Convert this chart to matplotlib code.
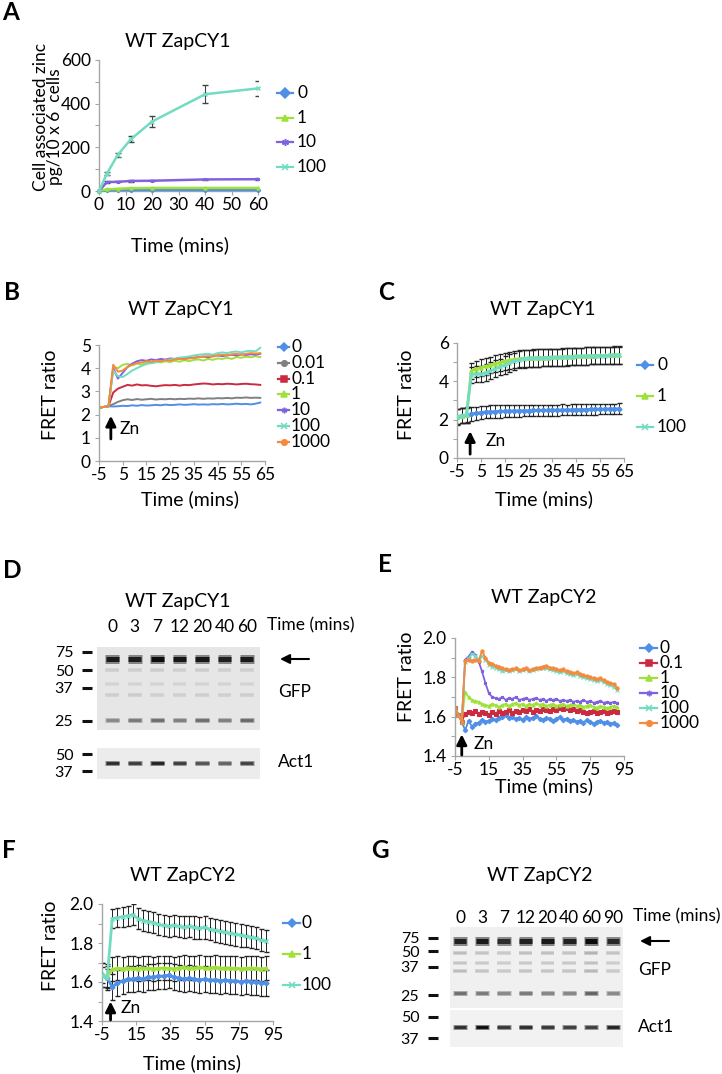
import numpy as np
import matplotlib
matplotlib.use("Agg")
import matplotlib.pyplot as plt
from matplotlib.ticker import FormatStrFormatter

W, H = 722, 1074
AXC = "#a6a6a6"
C0, C001, C01, C1, C10, C100, C1000 = ("#4f8fe6", "#808080", "#cc2a41", "#9fe03a",
                                        "#7f62e0", "#72dcc2", "#f58a3d")
STAR = (6, 2, 0)
plt.rcParams.update({"font.family": ["Lato", "DejaVu Sans"], "font.size": 12.5,
                     "axes.unicode_minus": False, "text.color": "black"})

# ---- A: cell associated zinc ----
A_T = [0, 3, 7, 12, 20, 40, 60]
A0 = [0, 3, 4, 5, 5, 5, 5]
A1 = [0, 8, 10, 13, 14, 14, 14]
A10 = [0, 41, 42, 46, 47, 53, 54]
A10_ERR = [0, 3, 3, 3, 3, 4, 4]
A100 = [0, 80, 164, 237, 318, 443, 470]
A100_ERR = [0, 8, 9, 14, 27, 42, 33]

# ---- B: ZapCY1 FRET, 7 doses (t = -5..63, 2 min) ----
B_T = np.arange(-5, 64, 2)
B0 = [2.30, 2.33, 2.36, 2.35, 2.36, 2.38, 2.37, 2.40, 2.38, 2.41, 2.39, 2.40, 2.42, 2.40, 2.43, 2.41, 2.42,
      2.44, 2.42, 2.43, 2.45, 2.43, 2.44, 2.43, 2.45, 2.44, 2.46, 2.44, 2.45, 2.47, 2.45, 2.46, 2.44, 2.47, 2.52]
B001 = [2.30, 2.33, 2.36, 2.45, 2.55, 2.62, 2.66, 2.63, 2.67, 2.64, 2.66, 2.68, 2.65, 2.67, 2.66, 2.68, 2.66,
        2.68, 2.67, 2.69, 2.68, 2.70, 2.68, 2.70, 2.69, 2.71, 2.70, 2.72, 2.70, 2.73, 2.72, 2.74, 2.72, 2.73, 2.72]
B01 = [2.30, 2.33, 2.36, 2.95, 3.12, 3.20, 3.28, 3.25, 3.30, 3.26, 3.27, 3.24, 3.22, 3.25, 3.27, 3.26, 3.28,
       3.25, 3.28, 3.27, 3.30, 3.32, 3.34, 3.33, 3.30, 3.32, 3.31, 3.33, 3.32, 3.30, 3.32, 3.33, 3.31, 3.30, 3.28]
B1 = [2.30, 2.33, 2.36, 4.05, 4.00, 4.15, 4.18, 4.12, 4.20, 4.15, 4.25, 4.22, 4.28, 4.25, 4.30, 4.27, 4.32,
      4.28, 4.35, 4.30, 4.36, 4.38, 4.33, 4.40, 4.36, 4.42, 4.40, 4.45, 4.40, 4.48, 4.45, 4.50, 4.47, 4.52, 4.48]
B10 = [2.30, 2.33, 2.36, 4.00, 3.55, 3.80, 4.05, 4.20, 4.30, 4.35, 4.32, 4.38, 4.35, 4.40, 4.37, 4.42, 4.40,
       4.45, 4.42, 4.47, 4.45, 4.48, 4.50, 4.47, 4.52, 4.55, 4.52, 4.55, 4.58, 4.55, 4.60, 4.57, 4.60, 4.58, 4.62]
B100 = [2.30, 2.33, 2.36, 3.90, 3.65, 3.62, 3.75, 3.90, 4.00, 4.10, 4.18, 4.22, 4.25, 4.30, 4.33, 4.38, 4.40,
        4.45, 4.48, 4.50, 4.55, 4.58, 4.60, 4.62, 4.58, 4.65, 4.68, 4.65, 4.70, 4.72, 4.68, 4.73, 4.75, 4.72, 4.88]
B1000 = [2.30, 2.33, 2.36, 4.15, 3.85, 3.90, 4.05, 4.15, 4.22, 4.25, 4.30, 4.28, 4.33, 4.30, 4.35, 4.32, 4.38,
         4.40, 4.38, 4.42, 4.45, 4.48, 4.50, 4.52, 4.50, 4.55, 4.58, 4.55, 4.60, 4.62, 4.58, 4.62, 4.65, 4.63, 4.65]

# ---- C: ZapCY1 FRET mean +/- SD ----
C_T = np.arange(-5, 64, 2)
C0_Y = [2.15, 2.20, 2.25, 2.30, 2.33, 2.37, 2.40, 2.41, 2.42, 2.43, 2.44, 2.45, 2.46, 2.46, 2.47, 2.47, 2.48, 2.48,
        2.49, 2.49, 2.50, 2.50, 2.51, 2.51, 2.52, 2.52, 2.53, 2.53, 2.54, 2.54, 2.55, 2.55, 2.56, 2.56, 2.57]
C0_ERR = [0.42, 0.40, 0.38, 0.36, 0.35, 0.34, 0.33, 0.33, 0.32, 0.32, 0.31, 0.31, 0.31, 0.30, 0.30, 0.30, 0.30, 0.30,
          0.29, 0.29, 0.29, 0.29, 0.29, 0.28, 0.28, 0.28, 0.28, 0.28, 0.28, 0.28, 0.28, 0.28, 0.28, 0.28, 0.28]
C1_Y = [2.15, 2.20, 2.25, 4.55, 4.65, 4.72, 4.78, 4.85, 4.92, 4.98, 5.05, 5.10, 5.15, 5.18, 5.20, 5.21, 5.22, 5.22,
        5.23, 5.24, 5.25, 5.26, 5.27, 5.28, 5.29, 5.30, 5.31, 5.32, 5.33, 5.34, 5.35, 5.35, 5.36, 5.37, 5.38]
C100_Y = [2.15, 2.20, 2.25, 4.35, 4.40, 4.38, 4.45, 4.55, 4.65, 4.75, 4.85, 4.95, 5.05, 5.12, 5.17, 5.20, 5.21, 5.22,
          5.23, 5.24, 5.25, 5.25, 5.26, 5.27, 5.28, 5.30, 5.31, 5.32, 5.33, 5.33, 5.34, 5.34, 5.35, 5.35, 5.36]
C_HI_ERR = [0.40, 0.40, 0.40, 0.42, 0.42, 0.43, 0.43, 0.44, 0.44, 0.44, 0.45, 0.45, 0.45, 0.45, 0.45, 0.45, 0.45, 0.45,
            0.45, 0.45, 0.45, 0.45, 0.45, 0.45, 0.45, 0.45, 0.45, 0.45, 0.45, 0.45, 0.45, 0.45, 0.45, 0.45, 0.45]

# ---- E: ZapCY2 FRET, 6 doses (t = -5..91, 2 min) ----
E_T = np.arange(-5, 92, 2)
E0 = [1.645, 1.61, 1.575, 1.53, 1.58, 1.55, 1.565, 1.57, 1.585, 1.575, 1.58, 1.59, 1.585, 1.595, 1.60, 1.61, 1.595,
      1.60, 1.59, 1.595, 1.585, 1.60, 1.59, 1.595, 1.605, 1.59, 1.585, 1.595, 1.59, 1.58, 1.59, 1.60, 1.585, 1.59,
      1.58, 1.585, 1.575, 1.58, 1.57, 1.585, 1.575, 1.565, 1.575, 1.58, 1.57, 1.575, 1.565, 1.57, 1.56]
E01 = [1.645, 1.61, 1.575, 1.615, 1.625, 1.62, 1.63, 1.615, 1.625, 1.62, 1.61, 1.625, 1.615, 1.63, 1.62, 1.625,
       1.635, 1.62, 1.63, 1.625, 1.635, 1.63, 1.64, 1.625, 1.635, 1.63, 1.64, 1.635, 1.63, 1.64, 1.635, 1.645, 1.64,
       1.645, 1.635, 1.64, 1.63, 1.635, 1.625, 1.62, 1.625, 1.63, 1.62, 1.625, 1.63, 1.62, 1.625, 1.63, 1.625]
E1 = [1.645, 1.61, 1.575, 1.725, 1.70, 1.685, 1.68, 1.675, 1.665, 1.66, 1.655, 1.665, 1.66, 1.65, 1.66, 1.665,
      1.655, 1.665, 1.67, 1.66, 1.665, 1.655, 1.665, 1.66, 1.67, 1.66, 1.665, 1.655, 1.66, 1.665, 1.655, 1.66, 1.665,
      1.655, 1.66, 1.665, 1.655, 1.66, 1.65, 1.655, 1.66, 1.65, 1.645, 1.655, 1.65, 1.645, 1.65, 1.655, 1.65]
E10 = [1.645, 1.61, 1.575, 1.89, 1.905, 1.93, 1.915, 1.88, 1.83, 1.77, 1.72, 1.70, 1.695, 1.69, 1.70, 1.685, 1.695,
       1.69, 1.70, 1.685, 1.69, 1.695, 1.685, 1.69, 1.695, 1.685, 1.69, 1.68, 1.69, 1.685, 1.69, 1.68, 1.685, 1.68,
       1.685, 1.675, 1.68, 1.675, 1.685, 1.675, 1.68, 1.67, 1.675, 1.68, 1.67, 1.675, 1.67, 1.675, 1.67]
E100 = [1.645, 1.61, 1.575, 1.88, 1.895, 1.92, 1.91, 1.89, 1.91, 1.89, 1.865, 1.855, 1.85, 1.84, 1.83, 1.835, 1.83,
        1.835, 1.84, 1.83, 1.835, 1.84, 1.83, 1.835, 1.84, 1.845, 1.85, 1.845, 1.84, 1.835, 1.83, 1.825, 1.83, 1.82,
        1.815, 1.81, 1.815, 1.805, 1.80, 1.795, 1.79, 1.785, 1.78, 1.785, 1.775, 1.765, 1.76, 1.75, 1.735]
E1000 = [1.645, 1.61, 1.575, 1.885, 1.89, 1.885, 1.89, 1.885, 1.935, 1.90, 1.875, 1.87, 1.86, 1.855, 1.845, 1.84,
         1.835, 1.84, 1.845, 1.835, 1.84, 1.845, 1.835, 1.84, 1.845, 1.85, 1.855, 1.86, 1.85, 1.845, 1.84, 1.835,
         1.84, 1.83, 1.825, 1.82, 1.825, 1.815, 1.81, 1.805, 1.80, 1.795, 1.79, 1.795, 1.785, 1.775, 1.77, 1.765, 1.745]

# ---- F: ZapCY2 FRET mean +/- SD (t = -5..91, 3 min) ----
F_T = np.arange(-5, 92, 3)
F0_Y = [1.635, 1.62, 1.575, 1.595, 1.605, 1.615, 1.615, 1.62, 1.615, 1.625, 1.625, 1.63, 1.63, 1.635, 1.625, 1.62,
        1.615, 1.62, 1.615, 1.61, 1.615, 1.61, 1.61, 1.605, 1.61, 1.605, 1.605, 1.60, 1.605, 1.60, 1.60, 1.595, 1.595]
F0_ERR = [0.060, 0.060, 0.065, 0.065, 0.065, 0.065, 0.065, 0.065, 0.065, 0.065, 0.065, 0.065, 0.065, 0.065, 0.065,
          0.065, 0.065, 0.065, 0.065, 0.065, 0.065, 0.065, 0.065, 0.065, 0.065, 0.065, 0.065, 0.065, 0.065, 0.065,
          0.065, 0.065, 0.065]
F1_Y = [1.635, 1.63, 1.665, 1.67, 1.668, 1.672, 1.67, 1.668, 1.672, 1.67, 1.668, 1.67, 1.672, 1.67, 1.668, 1.672,
        1.675, 1.67, 1.672, 1.675, 1.672, 1.67, 1.675, 1.672, 1.67, 1.672, 1.67, 1.668, 1.67, 1.672, 1.67, 1.668, 1.67]
F1_ERR = [0.060, 0.060, 0.062, 0.062, 0.062, 0.062, 0.062, 0.062, 0.062, 0.062, 0.062, 0.062, 0.062, 0.062, 0.062,
          0.062, 0.062, 0.062, 0.062, 0.062, 0.062, 0.062, 0.062, 0.062, 0.062, 0.062, 0.062, 0.062, 0.062, 0.062,
          0.062, 0.062, 0.062]
F100_Y = [1.635, 1.62, 1.925, 1.93, 1.935, 1.94, 1.945, 1.925, 1.915, 1.91, 1.905, 1.895, 1.89, 1.885, 1.89, 1.885,
          1.88, 1.885, 1.88, 1.875, 1.88, 1.87, 1.865, 1.86, 1.855, 1.85, 1.845, 1.84, 1.835, 1.83, 1.825, 1.815, 1.81]
F100_ERR = [0.040, 0.045, 0.050, 0.050, 0.052, 0.052, 0.053, 0.053, 0.054, 0.054, 0.055, 0.055, 0.055, 0.055, 0.056,
            0.056, 0.056, 0.056, 0.057, 0.057, 0.057, 0.057, 0.058, 0.058, 0.058, 0.058, 0.058, 0.058, 0.058, 0.058,
            0.058, 0.058, 0.058]

# ---- D / G: western blots (band intensity per lane, 0..1) ----
D_LANES = ["0", "3", "7", "12", "20", "40", "60"]
D_MW, D_MW_POS = ["75", "50", "37", "25"], [0.06, 0.28, 0.49, 0.89]
D_BAND_POS = [0.15, 0.28, 0.44, 0.58, 0.88]
D_GFP = [[0.88, 0.86, 0.95, 0.90, 0.90, 0.86, 0.88],
         [0.07, 0.06, 0.07, 0.06, 0.07, 0.06, 0.06],
         [0.04, 0.04, 0.04, 0.04, 0.04, 0.04, 0.04],
         [0.06, 0.07, 0.05, 0.05, 0.06, 0.05, 0.06],
         [0.38, 0.45, 0.50, 0.42, 0.50, 0.42, 0.52]]
D_ACT_MW, D_ACT_MW_POS = ["50", "37"], [0.20, 0.75]
D_ACT_POS = [0.47]
D_ACT = [[0.80, 0.72, 0.85, 0.72, 0.62, 0.55, 0.70]]

G_LANES = ["0", "3", "7", "12", "20", "40", "60", "90"]
G_MW, G_MW_POS = ["75", "50", "37", "25"], [0.13, 0.30, 0.49, 0.84]
G_BAND_POS = [0.17, 0.32, 0.45, 0.54, 0.81]
G_GFP = [[0.85, 0.88, 0.80, 0.85, 0.88, 0.85, 0.95, 0.82],
         [0.14, 0.10, 0.08, 0.12, 0.12, 0.10, 0.18, 0.10],
         [0.10, 0.08, 0.06, 0.08, 0.08, 0.08, 0.12, 0.06],
         [0.14, 0.10, 0.08, 0.10, 0.10, 0.10, 0.16, 0.08],
         [0.50, 0.45, 0.38, 0.45, 0.40, 0.40, 0.55, 0.38]]
G_ACT_MW, G_ACT_MW_POS = ["50", "37"], [0.18, 0.76]
G_ACT_POS = [0.45]
G_ACT = [[0.80, 0.95, 0.75, 0.80, 0.75, 0.72, 0.72, 0.85]]

fig = plt.figure(figsize=(W / 100, H / 100), dpi=100)
ov = fig.add_axes([0, 0, 1, 1])          # overlay in pixel coords (y down)
ov.set_xlim(0, W); ov.set_ylim(H, 0); ov.axis("off")


def px_axes(l, t, r, b):
    ax = fig.add_axes([l / W, 1 - b / H, (r - l) / W, (b - t) / H])
    ax.set_facecolor("none")
    return ax


def line_axes(l, t, r, b, xlim, ylim, xticks, yticks, yminor=None, yfmt=None):
    ax = px_axes(l, t, r, b)
    ax.set_xlim(*xlim); ax.set_ylim(*ylim)
    ax.set_xticks(xticks); ax.set_yticks(yticks)
    if yminor is not None:
        ax.set_yticks(yminor, minor=True)
    if yfmt:
        ax.yaxis.set_major_formatter(FormatStrFormatter(yfmt))
    for s in ("top", "right"):
        ax.spines[s].set_visible(False)
    for s in ("left", "bottom"):
        ax.spines[s].set_color(AXC); ax.spines[s].set_linewidth(1)
    ax.tick_params(which="both", direction="out", length=3, width=0.8, color=AXC, labelsize=12.5, pad=3)
    ax.tick_params(axis="x", pad=1.5)
    return ax


def legend(x0, x1, xt, y0, dy, items, fs=12.5, ms=4.5):
    for i, (lab, col, mk) in enumerate(items):
        y = y0 + i * dy
        ov.plot([x0, (x0 + x1) / 2, x1], [y] * 3, color=col, lw=1.6, marker=mk,
                markevery=[1], ms=ms, mew=1.1, clip_on=False)
        ov.text(xt, y, lab, va="center", ha="left", fontsize=fs)


def zn(ax, x, y0, y1, tx, ty):
    ax.annotate("", xy=(x, y1), xytext=(x, y0), annotation_clip=False,
                arrowprops=dict(arrowstyle="-|>", color="k", lw=2, mutation_scale=15, shrinkA=0, shrinkB=0))
    ax.text(tx, ty, "Zn", va="center", ha="left", fontsize=12.5)


def blot(l, t, r, b, xlim, mw, mw_pos, gap, band_pos, bands, widths, bg, lanes=None, lane_pad=0):
    ax = px_axes(l, t, r, b)
    ax.set_facecolor(bg)
    ax.set_xlim(*xlim); ax.set_ylim(1, 0)
    for s in ax.spines.values():
        s.set_visible(False)
    ax.spines["left"].set_position(("outward", gap * 0.72))
    ax.set_yticks(mw_pos); ax.set_yticklabels(mw)
    ax.tick_params(axis="y", length=7.5, width=2.2, color="#111", pad=6, labelsize=11.5)
    n = len(bands[0]); x = np.arange(n)
    if lanes:
        ax.set_xticks(x); ax.set_xticklabels(lanes); ax.xaxis.tick_top()
        ax.tick_params(axis="x", length=0, pad=lane_pad, labelsize=12.5)
    else:
        ax.set_xticks([])
    for pos, inten, lw in zip(band_pos, bands, widths):
        inten = np.asarray(inten)
        # soft halo + dark core
        ax.hlines(np.full(n, pos), x - 0.31, x + 0.31, lw=lw * 1.8,
                  colors=[str(round(0.86 * (1 - 0.45 * v), 3)) for v in inten])
        ax.hlines(np.full(n, pos), x - 0.29, x + 0.29, lw=lw,
                  colors=[str(round(0.86 * (1 - v), 3)) for v in inten])
    return ax


def label(x, y, s, **kw):
    ov.text(x, y, s, ha=kw.pop("ha", "center"), va=kw.pop("va", "center"), **kw)


# panel letters and titles
for (x, y), s in zip([(11, 12), (12, 293), (386, 293), (12, 571), (385, 565), (9, 851), (380, 851)], "ABCDEFG"):
    label(x, y, s, fontsize=17.5, fontweight="bold")
for (x, y), s in zip([(178, 42), (181, 310), (543, 310), (178, 602), (544, 597), (183, 876), (540, 876)],
                     ["WT ZapCY1"] * 4 + ["WT ZapCY2"] * 3):
    label(x, y, s, fontsize=14)

# ---- A ----
ax = line_axes(99, 60, 258, 191, (0, 60), (0, 600), range(0, 61, 10), range(0, 601, 200), yminor=[100, 300, 500])
for yv, err, col, mk in [(A0, None, C0, "D"), (A1, None, C1, "^"), (A10, A10_ERR, C10, STAR),
                         (A100, A100_ERR, C100, "x")]:
    if err is not None:
        ax.errorbar(A_T, yv, yerr=err, fmt="none", ecolor="#444", elinewidth=0.8, capsize=2, zorder=2)
    ax.plot(A_T, yv, color=col, lw=1.8, marker=mk, ms=2.2, zorder=3, clip_on=False)
label(41, 117, "Cell associated zinc", rotation=90, fontsize=12.5)
label(55, 127, "pg/10 x 6  cells", rotation=90, fontsize=12.5)
label(180, 245, "Time (mins)", fontsize=14)
legend(277, 293, 297, 93, 24.7, [("0", C0, "D"), ("1", C1, "^"), ("10", C10, STAR), ("100", C100, "x")], ms=5)

# ---- B ----
ax = line_axes(99, 345, 265, 461, (-5, 65), (0, 5), range(-5, 66, 10), range(0, 6))
for yv, col in [(B0, C0), (B001, C001), (B01, C01), (B1, C1), (B10, C10), (B100, C100), (B1000, C1000)]:
    ax.plot(B_T, yv, color=col, lw=1.4)
zn(ax, 0, 0.95, 1.95, 3.5, 1.4)
label(50, 395, "FRET ratio", rotation=90, fontsize=14)
label(190, 499, "Time (mins)", fontsize=14)
legend(278, 289, 291, 347, 15.8, [("0", C0, "D"), ("0.01", C001, "o"), ("0.1", C01, "s"), ("1", C1, "^"),
                                  ("10", C10, STAR), ("100", C100, "x"), ("1000", C1000, "o")], ms=4)

# ---- C ----
ax = line_axes(457, 343, 624, 458, (-5, 65), (0, 6), range(-5, 66, 10), range(0, 7, 2), yminor=[1, 3, 5])
for yv, err, col, mk in [(C0_Y, C0_ERR, C0, "D"), (C1_Y, C_HI_ERR, C1, "^"), (C100_Y, C_HI_ERR, C100, "x")]:
    ax.errorbar(C_T, yv, yerr=err, fmt="none", ecolor="#222", elinewidth=0.7, capsize=1.8, zorder=2)
    ax.plot(C_T, yv, color=col, lw=2, marker=mk, ms=2.5, zorder=3)
zn(ax, 0.5, 0.2, 1.4, 7, 0.9)
label(407, 395, "FRET ratio", rotation=90, fontsize=14)
label(544, 499, "Time (mins)", fontsize=14)
legend(637, 653, 657, 365, 31, [("0", C0, "D"), ("1", C1, "^"), ("100", C100, "x")])

# ---- D blot ----
blot(97, 647, 260, 730, (-0.67, 6.58), D_MW, D_MW_POS, 5, D_BAND_POS, D_GFP, [3.6, 1.6, 1.4, 1.6, 2.0],
     "#e6e6e6", lanes=D_LANES, lane_pad=9)
blot(97, 748, 260, 779, (-0.67, 6.58), D_ACT_MW, D_ACT_MW_POS, 5, D_ACT_POS, D_ACT, [2.0], "#ececec")
label(267, 625, "Time (mins)", ha="left", fontsize=12.5)
label(278, 692, "GFP", ha="left", fontsize=12.5)
label(278, 762, "Act1", ha="left", fontsize=12.5)
ov.annotate("", xy=(280, 659), xytext=(309, 659),
            arrowprops=dict(arrowstyle="-|>", color="k", lw=1.5, mutation_scale=14, shrinkA=0, shrinkB=0))

# ---- E ----
ax = line_axes(455, 638, 624, 756, (-5, 95), (1.4, 2.0), range(-5, 96, 20), [1.4, 1.6, 1.8, 2.0],
               yminor=[1.5, 1.7, 1.9], yfmt="%.1f")
for yv, col, mk in [(E0, C0, "D"), (E01, C01, "s"), (E1, C1, "^"), (E10, C10, STAR), (E100, C100, "x"),
                    (E1000, C1000, "o")]:
    ax.plot(E_T, yv, color=col, lw=1.3, marker=mk, ms=2.3, mew=0.8)
zn(ax, -1, 1.405, 1.51, 6, 1.46)
label(407, 677, "FRET ratio", rotation=90, fontsize=14)
label(544, 786, "Time (mins)", fontsize=14)
legend(640, 657, 660, 648, 15, [("0", C0, "D"), ("0.1", C01, "s"), ("1", C1, "^"), ("10", C10, STAR),
                                ("100", C100, "x"), ("1000", C1000, "o")], ms=4)

# ---- F ----
ax = line_axes(102, 904, 273, 1021, (-5, 95), (1.4, 2.0), range(-5, 96, 20), [1.4, 1.6, 1.8, 2.0],
               yminor=[1.5, 1.7, 1.9], yfmt="%.1f")
for yv, err, col, mk in [(F0_Y, F0_ERR, C0, "D"), (F1_Y, F1_ERR, C1, "^"), (F100_Y, F100_ERR, C100, "x")]:
    ax.errorbar(F_T, yv, yerr=err, fmt="none", ecolor="#222", elinewidth=0.7, capsize=1.8, zorder=2)
    ax.plot(F_T, yv, color=col, lw=2, marker=mk, ms=2.5, zorder=3)
zn(ax, 0, 1.405, 1.5, 6, 1.467)
label(51, 946, "FRET ratio", rotation=90, fontsize=14)
label(192, 1063, "Time (mins)", fontsize=14)
legend(283, 300, 302, 923, 31, [("0", C0, "D"), ("1", C1, "^"), ("100", C100, "x")])

# ---- G blot ----
blot(450, 927, 623, 1008, (-0.46, 7.46), G_MW, G_MW_POS, 12, G_BAND_POS, G_GFP, [3.6, 1.5, 1.4, 1.5, 2.0],
     "#f0f0f0", lanes=G_LANES, lane_pad=1)
blot(450, 1010, 623, 1047, (-0.46, 7.46), G_ACT_MW, G_ACT_MW_POS, 12, G_ACT_POS, G_ACT, [2.0], "#f2f2f2")
label(633, 916, "Time (mins)", ha="left", fontsize=12.5)
label(638, 970, "GFP", ha="left", fontsize=12.5)
label(638, 1027, "Act1", ha="left", fontsize=12.5)
ov.annotate("", xy=(640, 941), xytext=(669, 941),
            arrowprops=dict(arrowstyle="-|>", color="k", lw=1.5, mutation_scale=14, shrinkA=0, shrinkB=0))

fig.savefig("out.png", dpi=100, facecolor="white")
